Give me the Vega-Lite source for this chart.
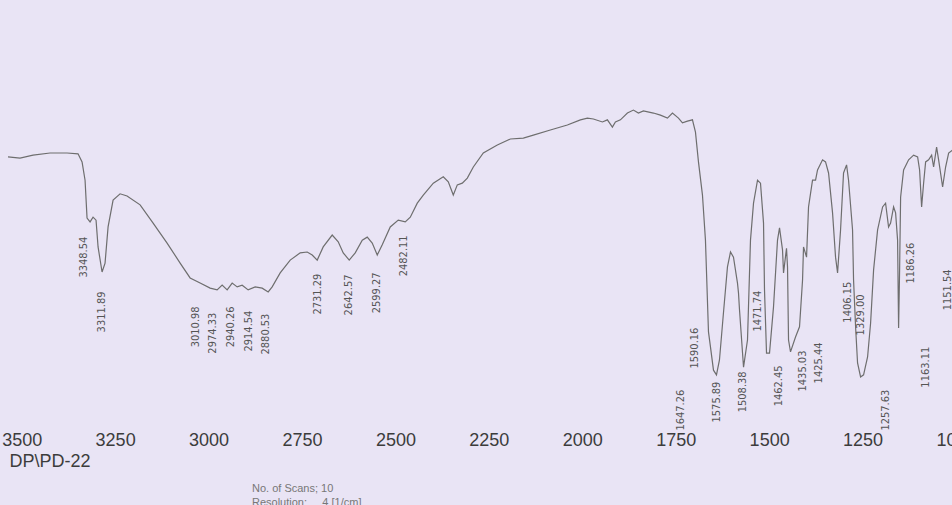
{
  "$schema": "https://vega.github.io/schema/vega-lite/v6.json",
  "width": 956,
  "height": 425,
  "autosize": {"type": "none"},
  "padding": {"left": 0, "top": 0, "right": 0, "bottom": 80},
  "background": "#e9e4f5",
  "config": {"view": {"stroke": null}},
  "title": {
    "text": ["No. of Scans; 10", "Resolution:\u00a0\u00a0\u00a0\u00a0\u00a04 [1/cm]"],
    "orient": "bottom",
    "anchor": "start",
    "frame": "group",
    "align": "left",
    "dx": 252,
    "offset": 13,
    "font": "Liberation Sans",
    "fontSize": 11,
    "fontWeight": "normal",
    "color": "#777777",
    "lineHeight": 14
  },
  "datasets": {
    "spec": [
      {"wn": 3536.6, "T": 63.1}, {"wn": 3504.4, "T": 62.8}, {"wn": 3469.6, "T": 63.5}, {"wn": 3424.1, "T": 64.0},
      {"wn": 3378.6, "T": 64.0}, {"wn": 3349.2, "T": 63.8}, {"wn": 3338.4, "T": 61.9}, {"wn": 3330.4, "T": 57.6},
      {"wn": 3325.1, "T": 48.7}, {"wn": 3317.0, "T": 47.8}, {"wn": 3309.0, "T": 48.9}, {"wn": 3301.0, "T": 48.2},
      {"wn": 3295.6, "T": 41.9}, {"wn": 3284.9, "T": 36.0}, {"wn": 3276.9, "T": 38.1}, {"wn": 3268.8, "T": 46.6},
      {"wn": 3255.4, "T": 52.9}, {"wn": 3236.7, "T": 54.4}, {"wn": 3218.0, "T": 53.9}, {"wn": 3183.1, "T": 51.8},
      {"wn": 3148.3, "T": 47.5}, {"wn": 3110.9, "T": 42.8}, {"wn": 3076.0, "T": 38.1}, {"wn": 3049.3, "T": 34.6},
      {"wn": 3022.5, "T": 33.4}, {"wn": 2995.7, "T": 32.2}, {"wn": 2977.0, "T": 31.8}, {"wn": 2963.6, "T": 32.9},
      {"wn": 2950.2, "T": 31.8}, {"wn": 2936.8, "T": 33.4}, {"wn": 2923.4, "T": 32.5}, {"wn": 2910.0, "T": 32.9},
      {"wn": 2894.0, "T": 31.8}, {"wn": 2875.2, "T": 32.5}, {"wn": 2856.5, "T": 32.2}, {"wn": 2840.4, "T": 31.3},
      {"wn": 2829.7, "T": 32.5}, {"wn": 2808.3, "T": 35.8}, {"wn": 2781.5, "T": 38.8}, {"wn": 2754.7, "T": 40.5},
      {"wn": 2736.0, "T": 40.7}, {"wn": 2722.6, "T": 40.0}, {"wn": 2709.2, "T": 38.8}, {"wn": 2693.2, "T": 41.9},
      {"wn": 2669.1, "T": 44.7}, {"wn": 2653.0, "T": 43.1}, {"wn": 2639.6, "T": 40.5}, {"wn": 2623.6, "T": 38.8},
      {"wn": 2607.5, "T": 40.5}, {"wn": 2588.7, "T": 43.5}, {"wn": 2575.4, "T": 44.2}, {"wn": 2562.0, "T": 42.8},
      {"wn": 2548.6, "T": 40.0}, {"wn": 2535.2, "T": 42.4}, {"wn": 2513.8, "T": 46.6}, {"wn": 2492.4, "T": 48.2},
      {"wn": 2473.6, "T": 47.8}, {"wn": 2460.2, "T": 48.9}, {"wn": 2441.5, "T": 52.2}, {"wn": 2425.4, "T": 54.1},
      {"wn": 2398.6, "T": 56.9}, {"wn": 2371.9, "T": 58.4}, {"wn": 2358.5, "T": 57.2}, {"wn": 2345.1, "T": 54.1},
      {"wn": 2334.4, "T": 56.5}, {"wn": 2321.0, "T": 56.9}, {"wn": 2307.6, "T": 58.1}, {"wn": 2291.5, "T": 60.7},
      {"wn": 2264.8, "T": 64.0}, {"wn": 2227.3, "T": 65.9}, {"wn": 2192.5, "T": 67.3}, {"wn": 2157.7, "T": 67.5},
      {"wn": 2130.9, "T": 68.2}, {"wn": 2085.4, "T": 69.4}, {"wn": 2039.9, "T": 70.6}, {"wn": 2005.0, "T": 71.8},
      {"wn": 1986.3, "T": 72.2}, {"wn": 1970.2, "T": 72.0}, {"wn": 1946.1, "T": 71.3}, {"wn": 1932.8, "T": 71.8},
      {"wn": 1919.4, "T": 70.1}, {"wn": 1911.3, "T": 71.3}, {"wn": 1897.9, "T": 71.8}, {"wn": 1879.2, "T": 73.4},
      {"wn": 1863.1, "T": 74.1}, {"wn": 1849.8, "T": 73.4}, {"wn": 1836.4, "T": 73.9}, {"wn": 1809.6, "T": 73.4},
      {"wn": 1790.8, "T": 72.9}, {"wn": 1772.1, "T": 72.2}, {"wn": 1758.7, "T": 73.4}, {"wn": 1742.6, "T": 72.2},
      {"wn": 1731.9, "T": 71.1}, {"wn": 1718.6, "T": 71.5}, {"wn": 1705.2, "T": 71.8}, {"wn": 1697.1, "T": 68.9},
      {"wn": 1689.1, "T": 61.9}, {"wn": 1678.4, "T": 54.1}, {"wn": 1670.4, "T": 43.5}, {"wn": 1662.3, "T": 21.9},
      {"wn": 1657.0, "T": 18.4}, {"wn": 1648.9, "T": 12.9}, {"wn": 1640.9, "T": 11.8}, {"wn": 1632.9, "T": 15.3},
      {"wn": 1622.2, "T": 26.4}, {"wn": 1611.5, "T": 37.2}, {"wn": 1603.4, "T": 40.7}, {"wn": 1595.4, "T": 39.5},
      {"wn": 1584.7, "T": 33.4}, {"wn": 1582.0, "T": 31.1}, {"wn": 1579.3, "T": 27.1}, {"wn": 1568.5, "T": 13.6},
      {"wn": 1557.9, "T": 20.0}, {"wn": 1549.9, "T": 43.5}, {"wn": 1541.8, "T": 52.2}, {"wn": 1531.1, "T": 57.6},
      {"wn": 1523.1, "T": 56.9}, {"wn": 1515.0, "T": 47.5}, {"wn": 1512.4, "T": 31.8}, {"wn": 1507.0, "T": 16.9},
      {"wn": 1499.0, "T": 16.9}, {"wn": 1488.3, "T": 27.8}, {"wn": 1477.6, "T": 43.5}, {"wn": 1472.2, "T": 46.4},
      {"wn": 1464.2, "T": 41.2}, {"wn": 1461.5, "T": 35.8}, {"wn": 1453.5, "T": 41.6}, {"wn": 1450.8, "T": 37.2},
      {"wn": 1448.1, "T": 20.0}, {"wn": 1442.8, "T": 17.2}, {"wn": 1429.4, "T": 20.7}, {"wn": 1418.7, "T": 23.1},
      {"wn": 1410.6, "T": 34.1}, {"wn": 1408.0, "T": 41.9}, {"wn": 1399.9, "T": 39.5}, {"wn": 1394.6, "T": 51.3},
      {"wn": 1383.9, "T": 57.6}, {"wn": 1375.8, "T": 57.6}, {"wn": 1370.5, "T": 60.0}, {"wn": 1357.1, "T": 62.4},
      {"wn": 1349.1, "T": 61.9}, {"wn": 1341.0, "T": 59.3}, {"wn": 1330.3, "T": 49.9}, {"wn": 1322.3, "T": 39.5},
      {"wn": 1316.9, "T": 35.8}, {"wn": 1308.9, "T": 45.9}, {"wn": 1300.9, "T": 59.3}, {"wn": 1292.8, "T": 61.2},
      {"wn": 1287.5, "T": 57.6}, {"wn": 1276.8, "T": 45.9}, {"wn": 1274.1, "T": 34.1}, {"wn": 1268.7, "T": 23.1},
      {"wn": 1263.4, "T": 14.6}, {"wn": 1255.3, "T": 11.3}, {"wn": 1247.3, "T": 11.8}, {"wn": 1236.6, "T": 16.0},
      {"wn": 1228.5, "T": 24.0}, {"wn": 1220.5, "T": 36.5}, {"wn": 1209.8, "T": 45.9}, {"wn": 1196.4, "T": 51.3},
      {"wn": 1188.4, "T": 52.2}, {"wn": 1180.4, "T": 46.6}, {"wn": 1175.0, "T": 47.5}, {"wn": 1167.0, "T": 51.3},
      {"wn": 1161.6, "T": 49.9}, {"wn": 1156.3, "T": 43.5}, {"wn": 1153.6, "T": 22.8}, {"wn": 1150.9, "T": 36.5},
      {"wn": 1148.2, "T": 53.6}, {"wn": 1140.2, "T": 60.0}, {"wn": 1126.8, "T": 62.4}, {"wn": 1113.4, "T": 63.5},
      {"wn": 1102.7, "T": 63.1}, {"wn": 1097.4, "T": 60.0}, {"wn": 1092.0, "T": 51.3}, {"wn": 1086.7, "T": 56.9},
      {"wn": 1081.3, "T": 61.9}, {"wn": 1073.3, "T": 62.4}, {"wn": 1065.2, "T": 63.5}, {"wn": 1059.9, "T": 60.7},
      {"wn": 1051.9, "T": 65.4}, {"wn": 1046.5, "T": 62.4}, {"wn": 1035.8, "T": 56.0}, {"wn": 1027.8, "T": 60.7},
      {"wn": 1019.7, "T": 64.0}, {"wn": 1009.0, "T": 64.7}, {"wn": 1000.0, "T": 65.0}
    ],
    "labels": [
      {"wn": 3333.1, "T": 39.5, "label": "3348.54"},
      {"wn": 3284.9, "T": 26.6, "label": "3311.89"},
      {"wn": 3033.2, "T": 23.1, "label": "3010.98"},
      {"wn": 2987.7, "T": 21.6, "label": "2974.33"},
      {"wn": 2939.5, "T": 23.1, "label": "2940.26"},
      {"wn": 2891.3, "T": 22.1, "label": "2914.54"},
      {"wn": 2845.8, "T": 21.4, "label": "2880.53"},
      {"wn": 2706.6, "T": 30.8, "label": "2731.29"},
      {"wn": 2623.6, "T": 30.6, "label": "2642.57"},
      {"wn": 2548.6, "T": 31.1, "label": "2599.27"},
      {"wn": 2476.3, "T": 39.8, "label": "2482.11"},
      {"wn": 1734.6, "T": 3.5, "label": "1647.26"},
      {"wn": 1697.1, "T": 18.1, "label": "1590.16"},
      {"wn": 1638.2, "T": 5.4, "label": "1575.89"},
      {"wn": 1568.6, "T": 7.8, "label": "1508.38"},
      {"wn": 1528.5, "T": 26.8, "label": "1471.74"},
      {"wn": 1474.9, "T": 9.2, "label": "1462.45"},
      {"wn": 1410.6, "T": 12.7, "label": "1435.03"},
      {"wn": 1367.8, "T": 14.6, "label": "1425.44"},
      {"wn": 1290.2, "T": 28.9, "label": "1406.15"},
      {"wn": 1255.3, "T": 25.9, "label": "1329.00"},
      {"wn": 1188.4, "T": 3.5, "label": "1257.63"},
      {"wn": 1121.5, "T": 38.1, "label": "1186.26"},
      {"wn": 1081.3, "T": 13.6, "label": "1163.11"},
      {"wn": 1022.4, "T": 31.8, "label": "1151.54"}
    ]
  },
  "layer": [
    {
      "data": {"name": "spec"},
      "mark": {"type": "line", "color": "#6e6e6e", "strokeWidth": 1.2, "interpolate": "linear"},
      "encoding": {
        "x": {
          "field": "wn", "type": "quantitative",
          "scale": {"domain": [1000, 3558], "reverse": true, "nice": false, "zero": false},
          "axis": {
            "values": [3500, 3250, 3000, 2750, 2500, 2250, 2000, 1750, 1500, 1250, 1000],
            "format": "d",
            "domain": false, "ticks": false, "grid": false,
            "labelFont": "Liberation Sans", "labelFontSize": 18, "labelColor": "#3c3c3c",
            "labelPadding": 6, "labelFlush": false, "labelOverlap": false, "labelBound": false,
            "title": "DP\\PD-22",
            "titleFont": "Liberation Sans", "titleFontSize": 18, "titleFontWeight": "normal",
            "titleColor": "#3c3c3c", "titleX": 9, "titleY": 41, "titleAlign": "left",
            "titleBaseline": "alphabetic", "titleAnchor": "start"
          }
        },
        "y": {
          "field": "T", "type": "quantitative",
          "scale": {"domain": [0, 100], "nice": false, "zero": false},
          "axis": null
        }
      }
    },
    {
      "data": {"name": "labels"},
      "mark": {"type": "text", "angle": 270, "align": "center", "baseline": "middle",
               "font": "Liberation Sans Narrow, DejaVu Sans Condensed, Liberation Sans",
               "fontSize": 11, "color": "#555555"},
      "encoding": {
        "x": {"field": "wn", "type": "quantitative"},
        "y": {"field": "T", "type": "quantitative"},
        "text": {"field": "label", "type": "nominal"}
      }
    }
  ]
}
